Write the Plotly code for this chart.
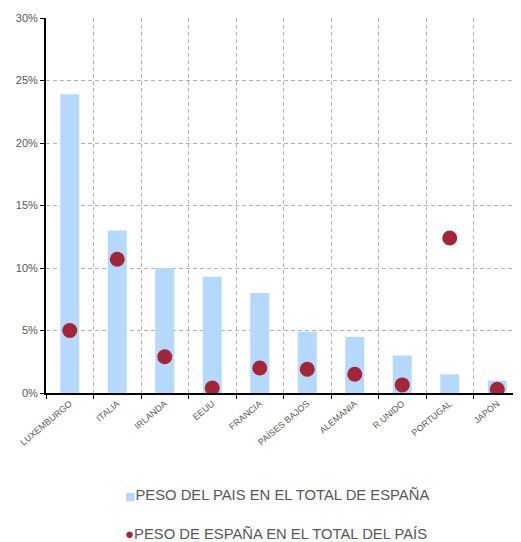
import plotly.graph_objects as go

countries = ["LUXEMBURGO", "ITALIA", "IRLANDA", "EEUU", "FRANCIA", "PAÍSES BAJOS",
             "ALEMANIA", "R.UNIDO", "PORTUGAL", "JAPÓN"]
peso_pais = [23.9, 13.0, 10.0, 9.3, 8.0, 4.9, 4.5, 3.0, 1.5, 1.0]
peso_espana = [5.0, 10.7, 2.9, 0.4, 2.0, 1.9, 1.5, 0.65, 12.4, 0.3]
legend_names = ["PESO DEL PAIS EN EL TOTAL DE ESPAÑA", "PESO DE ESPAÑA EN EL TOTAL DEL PAÍS"]

BAR_COLOR = "#b5d9fd"
DOT_COLOR = "#a32638"
TXT = "#595959"
GRID_DASH = "4px,3px"

fig = go.Figure()
fig.add_trace(go.Bar(
    x=countries, y=peso_pais, name=legend_names[0],
    marker=dict(color=BAR_COLOR, line=dict(width=0)), showlegend=False,
))
fig.add_trace(go.Scatter(
    x=countries, y=peso_espana, mode="markers", name=legend_names[1],
    marker=dict(color=DOT_COLOR, size=15, line=dict(width=0)), showlegend=False,
))

# legend drawn as text rows
fig.add_annotation(
    xref="paper", yref="paper", x=0.162, y=-0.272, xanchor="left", yanchor="middle",
    showarrow=False,
    text=f"<span style='color:{BAR_COLOR};font-family:DejaVu Sans;font-size:11px'>■</span>{legend_names[0]}",
    font=dict(size=14.8, color=TXT, family="Liberation Sans, Arial, sans-serif"),
)
fig.add_annotation(
    xref="paper", yref="paper", x=0.162, y=-0.374, xanchor="left", yanchor="middle",
    showarrow=False,
    text=f"<span style='color:{DOT_COLOR};font-size:15px'>●</span>{legend_names[1]}",
    font=dict(size=14.8, color=TXT, family="Liberation Sans, Arial, sans-serif"),
)

fig.update_layout(
    width=513, height=534,
    margin=dict(l=38, r=0, t=10, b=149),
    paper_bgcolor="white", plot_bgcolor="white",
    font=dict(family="Liberation Sans, Arial, sans-serif", color=TXT),
    bargap=0.6,
    showlegend=False,
)
fig.update_yaxes(
    range=[0, 30], dtick=5, ticksuffix="%", tickfont=dict(size=11, color=TXT),
    showline=True, linewidth=2, linecolor="black",
    ticks="outside", ticklen=4, tickcolor="black", tickwidth=1,
    showgrid=True, gridcolor="#b3b3b3", griddash=GRID_DASH, gridwidth=1,
    zeroline=False, automargin=False,
)
fig.update_xaxes(
    type="category", range=[-0.5, len(countries) - 0.5],
    tickangle=-40, tickfont=dict(size=9, color=TXT),
    showline=True, linewidth=2, linecolor="black",
    ticks="outside", ticklen=4, tickcolor="black", tickson="boundaries",
    showgrid=True, gridcolor="#b3b3b3", griddash=GRID_DASH, gridwidth=1,
    automargin=False,
)

fig.write_html("out.html")
